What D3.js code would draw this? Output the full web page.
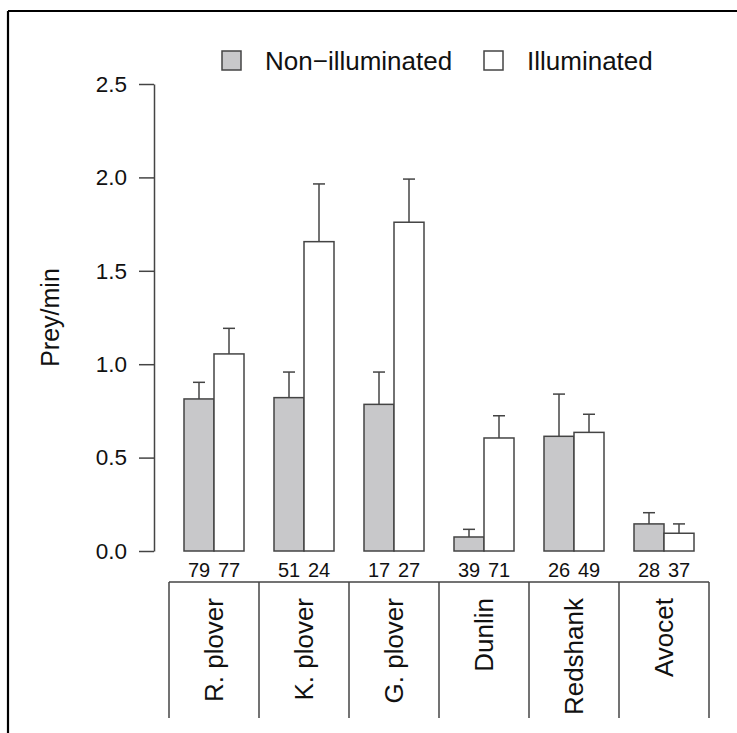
<!DOCTYPE html>
<html>
<head>
<meta charset="utf-8">
<script src="https://cdn.jsdelivr.net/npm/d3@7"></script>
<style>
  html, body { margin: 0; padding: 0; background: #fff; }
  svg { display: block; }
  text { font-family: "Liberation Sans", Arial, Helvetica, sans-serif; fill: #111; }
</style>
</head>
<body>
<svg id="chart" width="737" height="733"></svg>
<script>
// ---- data ----
const categories = ["R. plover", "K. plover", "G. plover", "Dunlin", "Redshank", "Avocet"];
const seriesNames = ["Non\u2212illuminated", "Illuminated"];
const nonIlluminated = [0.814, 0.821, 0.785, 0.075, 0.614, 0.145];
const nonIlluminatedSE = [0.089, 0.137, 0.173, 0.041, 0.226, 0.060];
const illuminated = [1.055, 1.656, 1.760, 0.605, 0.635, 0.095];
const illuminatedSE = [0.137, 0.309, 0.231, 0.119, 0.097, 0.050];
const nNonIlluminated = [79, 51, 17, 39, 26, 28];
const nIlluminated = [77, 24, 27, 71, 49, 37];
const yTicks = [0, 0.5, 1.0, 1.5, 2.0, 2.5];
const yLabel = "Prey/min";

// ---- layout ----
const svg = d3.select("#chart");
const axisColor = "#444";
const barStroke = "#444";
const fills = ["#c8c8ca", "#ffffff"];

const y = d3.scaleLinear().domain([0, 2.5]).range([551, 84]);
const x = d3.scaleBand().domain(categories).range([169, 709]).padding(0);
const inner = d3.scaleBand().domain(seriesNames).range([0, 60]).padding(0);
const offset = (x.bandwidth() - 60) / 2;

// frame (top + left edges)
svg.append("line").attr("x1", 8).attr("x2", 737).attr("y1", 11).attr("y2", 11)
  .attr("stroke", "#000").attr("stroke-width", 2.2);
svg.append("line").attr("x1", 8).attr("x2", 8).attr("y1", 11).attr("y2", 733)
  .attr("stroke", "#000").attr("stroke-width", 2.2);

// y axis
const yAxis = d3.axisLeft(y).tickValues(yTicks).tickSize(15).tickSizeOuter(0)
  .tickPadding(12).tickFormat(d3.format(".1f"));
const gy = svg.append("g").attr("transform", "translate(154,0)").call(yAxis);
gy.select(".domain").attr("stroke", axisColor).attr("stroke-width", 1.5);
gy.selectAll(".tick line").attr("stroke", axisColor).attr("stroke-width", 1.5);
gy.selectAll(".tick text").attr("font-size", 22.5).attr("font-family", "Liberation Sans, Arial, sans-serif").attr("fill", "#111");

// y label
svg.append("text")
  .attr("transform", `translate(59,${(y(0) + y(2.5)) / 2}) rotate(-90)`)
  .attr("text-anchor", "middle")
  .attr("font-size", 25)
  .text(yLabel);

// bars
const rows = categories.map((c, i) => ({
  cat: c,
  vals: [
    { s: seriesNames[0], v: nonIlluminated[i], se: nonIlluminatedSE[i], n: nNonIlluminated[i], fill: fills[0] },
    { s: seriesNames[1], v: illuminated[i], se: illuminatedSE[i], n: nIlluminated[i], fill: fills[1] }
  ]
}));

const groups = svg.selectAll("g.grp").data(rows).join("g")
  .attr("class", "grp")
  .attr("transform", d => `translate(${x(d.cat) + offset},0)`);

// error bars (upper only)
const capHalf = 6;
groups.selectAll("line.err").data(d => d.vals).join("line")
  .attr("class", "err")
  .attr("x1", d => inner(d.s) + inner.bandwidth() / 2)
  .attr("x2", d => inner(d.s) + inner.bandwidth() / 2)
  .attr("y1", d => y(d.v))
  .attr("y2", d => y(d.v + d.se))
  .attr("stroke", barStroke).attr("stroke-width", 1.5);
groups.selectAll("line.cap").data(d => d.vals).join("line")
  .attr("class", "cap")
  .attr("x1", d => inner(d.s) + inner.bandwidth() / 2 - capHalf)
  .attr("x2", d => inner(d.s) + inner.bandwidth() / 2 + capHalf)
  .attr("y1", d => y(d.v + d.se))
  .attr("y2", d => y(d.v + d.se))
  .attr("stroke", barStroke).attr("stroke-width", 1.5);

groups.selectAll("rect").data(d => d.vals).join("rect")
  .attr("x", d => inner(d.s))
  .attr("width", inner.bandwidth())
  .attr("y", d => y(d.v))
  .attr("height", d => y(0) - y(d.v))
  .attr("fill", d => d.fill)
  .attr("stroke", barStroke).attr("stroke-width", 1.5);

// sample sizes
groups.selectAll("text.n").data(d => d.vals).join("text")
  .attr("class", "n")
  .attr("x", d => inner(d.s) + inner.bandwidth() / 2)
  .attr("y", 577)
  .attr("text-anchor", "middle")
  .attr("font-size", 20)
  .text(d => d.n);

// category boxes
svg.append("line").attr("x1", x.range()[0]).attr("x2", x.range()[1])
  .attr("y1", 582).attr("y2", 582).attr("stroke", axisColor).attr("stroke-width", 1.5);
const bounds = categories.map(c => x(c)).concat([x.range()[1]]);
svg.selectAll("line.sep").data(bounds).join("line")
  .attr("class", "sep")
  .attr("x1", d => d).attr("x2", d => d)
  .attr("y1", 582).attr("y2", 718)
  .attr("stroke", axisColor).attr("stroke-width", 1.5);

svg.selectAll("text.cat").data(categories).join("text")
  .attr("class", "cat")
  .attr("transform", c => `translate(${x(c) + x.bandwidth() / 2 + 9},598) rotate(-90)`)
  .attr("text-anchor", "end")
  .attr("font-size", 26)
  .text(c => c);

// legend
const legend = svg.append("g");
const legX = [222, 484];
seriesNames.forEach((s, i) => {
  legend.append("rect")
    .attr("x", legX[i]).attr("y", 51).attr("width", 19).attr("height", 19)
    .attr("fill", fills[i]).attr("stroke", barStroke).attr("stroke-width", 1.5);
  legend.append("text")
    .attr("x", legX[i] + 43).attr("y", 70)
    .attr("font-size", 26)
    .text(s);
});
</script>
</body>
</html>
